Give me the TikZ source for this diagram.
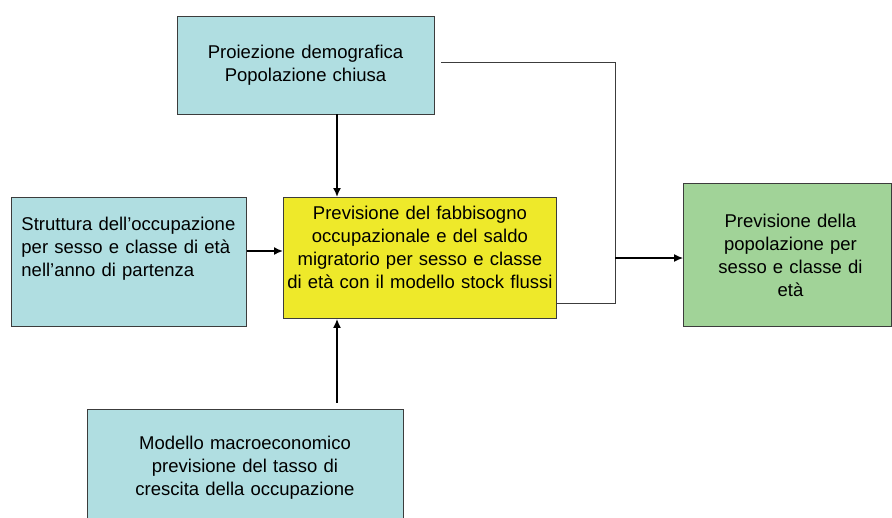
\documentclass[tikz,border=0pt]{standalone}
\usepackage{fontspec}
\setmainfont{Liberation Sans}
\usetikzlibrary{arrows.meta}

\definecolor{boxteal}{RGB}{176,222,225}
\definecolor{boxyellow}{RGB}{238,233,42}
\definecolor{boxgreen}{RGB}{161,211,152}
\definecolor{edgegray}{RGB}{60,60,60}

\tikzset{
  box/.style={draw=edgegray, line width=0.9pt, rectangle, inner ysep=0pt,
    font=\fontsize{18.5}{23}\selectfont},
  flow/.style={line width=1.6pt, -{Latex[length=9pt,width=8pt]}},
  feed/.style={draw=edgegray, line width=0.9pt}
}

\begin{document}
\begin{tikzpicture}[x=1pt, y=-1pt]

  \useasboundingbox (0,0) rectangle (892,517);

  % Input boxes
  \node[box, fill=boxteal, minimum width=257pt, minimum height=98pt,
        text width=240pt, align=center] (demo) at (305.5,65)
    {Proiezione demografica\\Popolazione chiusa};
  \node[box, fill=boxteal, anchor=north west, minimum width=235pt,
        text width=215pt, inner xsep=10pt, align=left,
        text height=33pt, text depth=96pt] (struct) at (11,197)
    {Struttura dell’occupazione\\per sesso e classe di età\\nell’anno di partenza};
  \node[box, fill=boxteal, minimum width=316pt, minimum height=117pt,
        text width=300pt, align=center] (macro) at (245,467.5)
    {Modello macroeconomico\\previsione del tasso di\\crescita della occupazione};

  % Central model
  \node[box, fill=boxyellow, anchor=north west, minimum width=273pt,
        text width=271pt, inner xsep=1pt, align=center,
        text height=22.5pt, text depth=98.5pt] (core) at (283,197)
    {Previsione del fabbisogno\\occupazionale e del saldo\\migratorio per sesso e classe\\di età con il modello stock flussi};

  % Output
  \node[box, fill=boxgreen, anchor=north west, minimum width=208pt,
        minimum height=143pt, text width=200pt, align=center] (result) at (683,183)
    {\hspace*{6pt}Previsione della\\\hspace*{6pt}popolazione per\\\hspace*{6pt}sesso e classe di\\\hspace*{6pt}età};

  % Routing points
  \coordinate (spine) at (337,0);
  \coordinate (mid)   at (0,251);
  \coordinate (top)   at (615,62);
  \coordinate (join)  at (615,258);
  \coordinate (low)   at (615,303);

  % Arrows into the model
  \draw[flow] (demo.south -| spine) -- (core.north -| spine);
  \draw[flow] (struct.east |- mid) -- (core.west |- mid);
  \draw[flow, shorten <=6pt] (macro.north -| spine) -- (core.south -| spine);

  % Merge towards the result
  \draw[feed, shorten <=7pt] (demo.east |- top) -- (top) -- (low) -- (core.east |- low);
  \draw[flow, line width=1.2pt] (join) -- (result.west |- join);

\end{tikzpicture}
\end{document}
